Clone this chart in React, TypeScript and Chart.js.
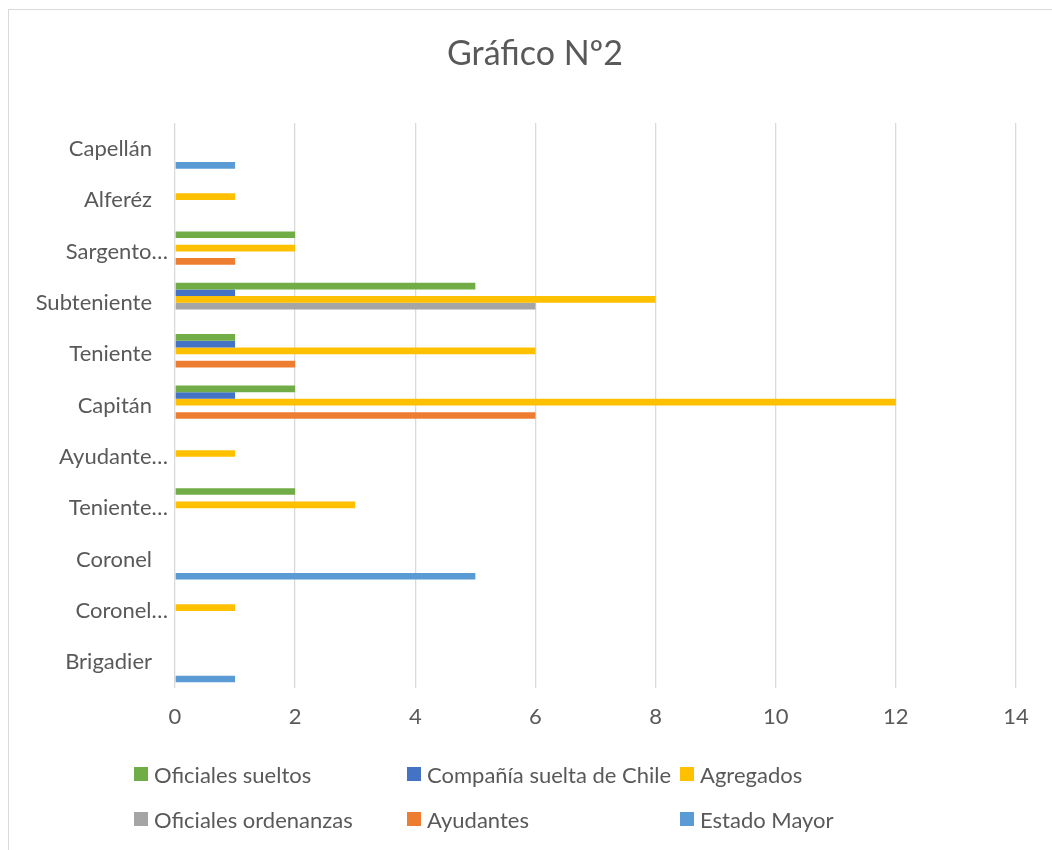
import React, { useEffect, useRef } from "react";
import { Chart, registerables } from "chart.js";

Chart.register(...registerables);

const categories = [
  "Capellán",
  "Alferéz",
  "Sargento…",
  "Subteniente",
  "Teniente",
  "Capitán",
  "Ayudante…",
  "Teniente…",
  "Coronel",
  "Coronel…",
  "Brigadier",
];

const oficialesSueltos = [0, 0, 2, 5, 1, 2, 0, 2, 0, 0, 0];
const companiaSuelta = [0, 0, 0, 1, 1, 1, 0, 0, 0, 0, 0];
const agregados = [0, 1, 2, 8, 6, 12, 1, 3, 0, 1, 0];
const oficialesOrdenanzas = [0, 0, 0, 6, 0, 0, 0, 0, 0, 0, 0];
const ayudantes = [0, 0, 1, 0, 2, 6, 0, 0, 0, 0, 0];
const estadoMayor = [1, 0, 0, 0, 0, 0, 0, 0, 5, 0, 1];

const xTicks = [0, 2, 4, 6, 8, 10, 12, 14];

const seriesNames = [
  "Oficiales sueltos",
  "Compañía suelta de Chile",
  "Agregados",
  "Oficiales ordenanzas",
  "Ayudantes",
  "Estado Mayor",
];
const seriesColors = ["#70AD47", "#4472C4", "#FFC000", "#A5A5A5", "#ED7D31", "#5B9BD5"];
const seriesValues = [
  oficialesSueltos,
  companiaSuelta,
  agregados,
  oficialesOrdenanzas,
  ayudantes,
  estadoMayor,
];

const FONT = "Lato, 'Open Sans', sans-serif";
const TEXT = "#595959";

const yLabelPlugin = {
  id: "yLabels",
  afterDraw(chart: any) {
    const ctx = chart.ctx;
    const y = chart.scales.y;
    ctx.save();
    ctx.font = `22px ${FONT}`;
    ctx.fillStyle = TEXT;
    ctx.textAlign = "right";
    ctx.textBaseline = "middle";
    categories.forEach((lab, i) => {
      const py = y.getPixelForValue(i);
      const px = lab.endsWith("…") ? 168 : 152;
      ctx.fillText(lab, px, py);
    });
    ctx.restore();
  },
};

export default function App() {
  const ref = useRef<HTMLCanvasElement>(null);

  useEffect(() => {
    if (!ref.current) return;
    const chart = new Chart(ref.current, {
      type: "bar",
      data: {
        labels: categories,
        datasets: seriesNames.map((name, i) => ({
          label: name,
          data: seriesValues[i],
          backgroundColor: seriesColors[i],
          borderWidth: 0,
          barPercentage: 1,
          categoryPercentage: 0.78,
        })),
      },
      options: {
        indexAxis: "y",
        animation: false,
        responsive: false,
        maintainAspectRatio: false,
        layout: { padding: { left: 0, top: 123, right: 36, bottom: 0 } },
        plugins: {
          legend: { display: false },
          title: { display: false },
          tooltip: { enabled: false },
        },
        scales: {
          x: {
            min: 0,
            max: 14,
            afterBuildTicks: (scale: any) => {
              scale.ticks = xTicks.map((v) => ({ value: v }));
            },
            afterFit: (scale: any) => {
              scale.height = 850 - 688;
            },
            grid: { color: "#D9D9D9", lineWidth: 1.3, drawTicks: false },
            border: { display: false },
            ticks: {
              color: TEXT,
              font: { family: FONT, size: 22 },
              padding: 16,
            },
          },
          y: {
            type: "category",
            afterFit: (scale: any) => {
              scale.width = 175;
            },
            grid: { display: false },
            border: { display: false },
            ticks: { display: false },
          },
        },
      },
      plugins: [yLabelPlugin],
    });
    return () => chart.destroy();
  }, []);

  return (
    <div style={{ position: "fixed", left: 0, top: 0, width: 1052, height: 850, background: "#fff", overflow: "hidden" }}>
      <div
        style={{
          position: "absolute",
          left: 8,
          top: 9,
          width: 1100,
          height: 900,
          border: "1.5px solid #D9D9D9",
          boxSizing: "border-box",
        }}
      />
      <canvas ref={ref} width={1052} height={850} style={{ position: "absolute", left: 0, top: 0, width: 1052, height: 850 }} />
      <div
        style={{
          position: "absolute",
          left: 0,
          top: 32,
          width: 1070,
          textAlign: "center",
          fontFamily: FONT,
          fontSize: 34,
          color: TEXT,
          lineHeight: "40px",
        }}
      >
        Gráfico Nº2
      </div>
      <div
        style={{
          position: "absolute",
          left: 134,
          top: 762,
          display: "grid",
          gridTemplateColumns: "273px 273px 273px",
          rowGap: 21,
          fontFamily: FONT,
          fontSize: 22,
          color: TEXT,
        }}
      >
        {seriesNames.map((name, i) => (
          <div key={name} style={{ display: "flex", alignItems: "center", height: 24, whiteSpace: "nowrap" }}>
            <span style={{ display: "inline-block", width: 14, height: 14, background: seriesColors[i], marginRight: 6 }} />
            <span>{name}</span>
          </div>
        ))}
      </div>
    </div>
  );
}
